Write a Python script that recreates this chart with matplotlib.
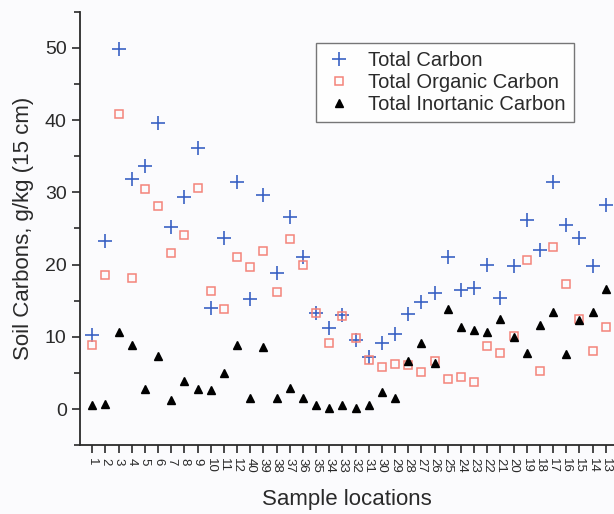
import matplotlib
matplotlib.use("Agg")
from matplotlib import pyplot as plt
from matplotlib.ticker import MultipleLocator
import numpy as np

plt.rcParams['font.family'] = ['Liberation Sans', 'DejaVu Sans']

# sample locations in plotted order
locations = ['1', '2', '3', '4', '5', '6', '7', '8', '9', '10', '11', '12',
             '40', '39', '38', '37', '36', '35', '34', '33', '32', '31', '30',
             '29', '28', '27', '26', '25', '24', '23', '22', '21', '20', '19',
             '18', '17', '16', '15', '14', '13']

total_carbon = [10.2, 23.3, 49.9, 31.8, 33.7, 39.6, 25.2, 29.4, 36.2, 14.0,
                23.7, 31.5, 15.3, 29.6, 18.9, 26.6, 21.1, 13.3, 11.2, 13.0,
                9.5, 7.2, 9.2, 10.4, 13.2, 14.8, 16.1, 21.0, 16.5, 16.8,
                19.9, 15.4, 19.8, 26.2, 22.0, 31.4, 25.5, 23.7, 19.8, 28.3]

organic_carbon = [8.9, 18.6, 40.8, 18.1, 30.5, 28.1, 21.6, 24.1, 30.6, 16.3,
                  13.9, 21.0, 19.6, 21.9, 16.2, 23.5, 20.0, 13.3, 9.2, 12.9,
                  9.8, 6.8, 5.8, 6.2, 6.1, 5.1, 6.7, 4.2, 4.4, 3.8,
                  8.7, 7.7, 10.1, 20.6, 5.3, 22.4, 17.3, 12.4, 8.1, 11.4]

inorganic_carbon = [0.5, 0.7, 10.6, 8.9, 2.8, 7.4, 1.3, 3.9, 2.8, 2.7,
                    5.0, 8.9, 1.5, 8.6, 1.5, 2.9, 1.5, 0.5, 0.1, 0.5,
                    0.1, 0.5, 2.4, 1.5, 6.7, 9.2, 6.4, 13.8, 11.3, 11.0,
                    10.7, 12.5, 10.0, 7.8, 11.6, 13.5, 7.6, 12.3, 13.4, 16.6]

x = np.arange(1, len(locations) + 1)
text_col = '#2a2a2a'

fig = plt.figure(figsize=(6.14, 5.14), dpi=100, facecolor='#fbfbfd')
ax = fig.add_axes([0.130, 0.134, 0.870, 0.843])
ax.set_facecolor('#fbfbfd')

ax.plot(x, total_carbon, '+', color='#3a62c4', markersize=9.5, mew=1.2,
        linestyle='none', label='Total Carbon')
ax.plot(x, organic_carbon, 's', mfc='none', mec='#f4847a', markersize=6,
        mew=1.1, linestyle='none', label='Total Organic Carbon')
ax.plot(x, inorganic_carbon, '^', color='black', markersize=5.5,
        linestyle='none', label='Total Inortanic Carbon')

ax.set_xlim(0.06, 40.63)
ax.set_ylim(-5, 55)

ax.set_xticks(x)
ax.set_xticklabels(locations, rotation=-90, fontsize=9.5, color=text_col)
ax.yaxis.set_minor_locator(MultipleLocator(5))
ax.set_yticks(np.arange(0, 51, 10))
ax.tick_params(axis='y', labelsize=14, colors=text_col, length=6, width=1.2)
ax.tick_params(axis='y', which='minor', length=4, width=1.2, colors=text_col)
ax.tick_params(axis='x', length=6, width=1.2, colors=text_col, pad=3)

ax.spines['top'].set_visible(False)
ax.spines['right'].set_visible(False)
for s in ['left', 'bottom']:
    ax.spines[s].set_linewidth(1.3)
    ax.spines[s].set_color(text_col)

ax.set_ylabel('Soil Carbons, g/kg (15 cm)', fontsize=16, color=text_col, labelpad=8)
ax.set_xlabel('Sample locations', fontsize=16, color=text_col, labelpad=12)

leg = ax.legend(loc='upper right', bbox_to_anchor=(0.925, 0.928), fontsize=14.5,
                frameon=True, fancybox=False, edgecolor='#555555',
                borderaxespad=0, handletextpad=0.7, borderpad=0.4,
                labelspacing=0.15, handlelength=1.5)
leg.get_frame().set_linewidth(1.0)
for t in leg.get_texts():
    t.set_color(text_col)

fig.savefig('out.png', dpi=100, facecolor=fig.get_facecolor())
